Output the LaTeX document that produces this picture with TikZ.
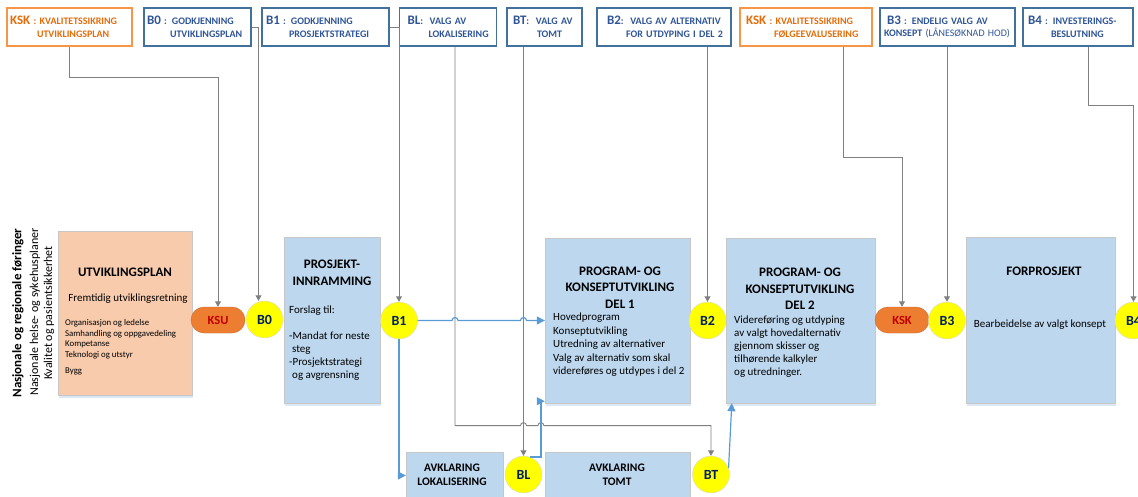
\documentclass[tikz,border=0pt]{standalone}
\usepackage{fontspec}
\setmainfont{Carlito}
\usetikzlibrary{arrows.meta,calc,shadows}

\definecolor{phaseblue}{RGB}{189,215,238}
\definecolor{planpeach}{RGB}{248,203,173}
\definecolor{gateyellow}{RGB}{255,255,0}
\definecolor{kskorange}{RGB}{237,125,49}
\definecolor{textorange}{RGB}{228,108,10}
\definecolor{frameorange}{RGB}{247,150,70}
\definecolor{frameblue}{RGB}{65,113,156}
\definecolor{textblue}{RGB}{47,85,151}
\definecolor{gatenavy}{RGB}{0,32,96}
\definecolor{kskred}{RGB}{192,0,0}
\definecolor{linkgray}{RGB}{128,128,128}
\definecolor{flowblue}{RGB}{91,155,213}

% bigger code letters in the decision boxes
\newcommand{\gatekey}[1]{{\fontsize{13}{13}\selectfont #1}}

\begin{document}
\begin{tikzpicture}
[
x=1pt, y=-1pt,
TopBlue/.style={rectangle, draw=frameblue, line width=1.2pt, fill=white, text=textblue, font=\bfseries\fontsize{10}{12.5}\selectfont, align=left, inner xsep=3pt, inner ysep=0pt, minimum height=38pt},
TopOrange/.style={TopBlue, draw=frameorange, text=textorange},
Phase/.style={rectangle, draw=black!22, fill=phaseblue, thin, drop shadow={shadow xshift=0.5pt, shadow yshift=-3pt, fill=phaseblue!55, opacity=1}},
Plan/.style={Phase, fill=planpeach},
Gate/.style={circle, draw=black!15, fill=gateyellow, minimum size=37pt, inner sep=0pt, text=gatenavy, font=\bfseries\fontsize{14}{14}\selectfont},
Check/.style={rectangle, rounded corners=13pt, draw=kskorange!85!black, fill=kskorange, minimum width=54pt, minimum height=26pt, inner sep=0pt, text=kskred, font=\bfseries\fontsize{12.5}{12.5}\selectfont},
Title/.style={font=\bfseries\fontsize{13}{16.5}\selectfont, align=center, inner sep=0pt},
Body/.style={font=\fontsize{11}{13.5}\selectfont, align=left, inner sep=0pt, anchor=north west},
Link/.style={draw=linkgray, line width=0.9pt, -{Triangle[width=6pt,length=5.5pt]}},
Flow/.style={draw=flowblue, line width=1.2pt, -{Triangle[width=8pt,length=8pt]}},
]

\useasboundingbox (0,0) rectangle (1138,497);

% decisions along the top
\node[TopOrange, text width=119pt] (kskA) at (69.5,27) {\gatekey{KSK} : KVALITETSSIKRING\\\hspace*{27pt}UTVIKLINGSPLAN};
\node[TopBlue, text width=101pt] (b0box) at (197.5,27) {\gatekey{B0} : GODKJENNING\\\hspace*{23pt}UTVIKLINGSPLAN};
\node[TopBlue, text width=121pt] (b1box) at (325.5,27) {\hspace*{1pt}\gatekey{B1} : GODKJENNING\\\hspace*{24pt}PROSJEKTSTRATEGI};
\node[TopBlue, text width=91pt] (blbox) at (448,27) {\hspace*{5pt}\gatekey{BL}:\ \ VALG AV\\\hspace*{26pt}LOKALISERING};
\node[TopBlue, text width=69pt] (btbox) at (544.5,27) {\hspace*{3pt}\gatekey{BT}:\ \ VALG AV\\\hspace*{27pt}TOMT};
\node[TopBlue, text width=128pt] (b2box) at (664,27) {\hspace*{7pt}\gatekey{B2}:\ \ VALG AV ALTERNATIV\\\hspace*{26pt}FOR UTDYPING I DEL 2};
\node[TopOrange, text width=126pt] (kskB) at (806,27) {\hspace*{3pt}\gatekey{KSK} : KVALITETSSIKRING\\\hspace*{31pt}FØLGEEVALUSERING};
\node[TopBlue, text width=129pt] (b3box) at (947.5,27) {\hspace*{4pt}\gatekey{B3} : ENDELIG VALG AV\\\hspace*{1pt}\mbox{KONSEPT {\mdseries (LÅNESØKNAD HOD)}}};
\node[TopBlue, text width=104pt] (b4box) at (1078,27) {\hspace*{2pt}\gatekey{B4} : INVESTERINGS-\\\hspace*{25pt}BESLUTNING};

% side text
\node[rotate=90, font=\bfseries\fontsize{13}{13}\selectfont] (foringer) at (18,313) {Nasjonale og regionale føringer};
\node[rotate=90, font=\fontsize{12}{12}\selectfont] (planer) at (35,312) {Nasjonale helse- og sykehusplaner};
\node[rotate=90, font=\fontsize{12}{12}\selectfont] (kvalitet) at (49,313) {Kvalitet og pasientsikkerhet};

% phases
\node[Plan, minimum width=134pt, minimum height=164pt] (plan) at (125,313) {};
\node[Phase, minimum width=96pt, minimum height=166pt] (innr) at (332,320) {};
\node[Phase, minimum width=145pt, minimum height=165pt] (del1) at (617.5,320.5) {};
\node[Phase, minimum width=149pt, minimum height=165pt] (del2) at (800.5,320.5) {};
\node[Phase, minimum width=149pt, minimum height=166pt] (forpro) at (1040.5,320) {};
\node[Phase, minimum width=97pt, minimum height=47pt] (lok) at (454.5,475.5) {};
\node[Phase, minimum width=145pt, minimum height=47pt] (tomt) at (617.5,475.5) {};

\node[Title] (plantitle) at (125,272) {UTVIKLINGSPLAN};
\node[font=\fontsize{11}{13}\selectfont, inner sep=0pt] (planaim) at (128,299) {Fremtidig utviklingsretning};
\node[Body, font=\fontsize{8.8}{10.7}\selectfont] (planlist) at (65,319) {Organisasjon og ledelse\\Samhandling og oppgavedeling\\Kompetanse\\Teknologi og utstyr\\[5pt]Bygg};

\node[Title] (innrtitle) at (332,273) {PROSJEKT-\\INNRAMMING};
\node[Body, font=\fontsize{11}{13}\selectfont] (innrtxt) at (289,305.5) {Forslag til:\\[13pt]-Mandat for neste\\\hspace*{3pt}steg\\-Prosjektstrategi\\\hspace*{3pt}og avgrensning};

\node[Title] (del1title) at (620,287.5) {PROGRAM- OG\\KONSEPTUTVIKLING\\DEL 1};
\node[Body] (del1txt) at (553,313) {Hovedprogram\\Konseptutvikling\\Utredning av alternativer\\Valg av alternativ som skal\\videreføres og utdypes i del 2};

\node[Title] (del2title) at (800,289) {PROGRAM- OG\\KONSEPTUTVIKLING\\DEL 2};
\node[Body, font=\fontsize{11}{13}\selectfont] (del2txt) at (734,315.5) {Videreføring og utdyping\\av valgt hovedalternativ\\gjennom skisser og\\tilhørende kalkyler\\og utredninger.};

\node[Title] (forprotitle) at (1044,271) {FORPROSJEKT};
\node[font=\fontsize{11}{13}\selectfont, inner sep=0pt] (forprotxt) at (1040,325) {Bearbeidelse av valgt konsept};

\node[Title, font=\bfseries\fontsize{11.5}{14}\selectfont] (loktitle) at (452,475) {AVKLARING\\LOKALISERING};
\node[Title, font=\bfseries\fontsize{11.5}{14}\selectfont] (tomttitle) at (617,475) {AVKLARING\\TOMT};

% gates and quality checks
\node[Check] (ksu) at (218,320) {KSU};
\node[Gate] (b0) at (264.5,319.5) {B0};
\node[Gate] (b1) at (399,320.5) {B1};
\node[Gate] (b2) at (707.5,320.5) {B2};
\node[Check] (ksk) at (902,320) {KSK};
\node[Gate] (b3) at (947,320.5) {B3};
\node[Gate] (b4) at (1133.5,320.5) {B4};
\node[Gate] (bl) at (523.5,474.5) {BL};
\node[Gate] (bt) at (711,474.5) {BT};

\coordinate (bldrop) at ([xshift=7pt]blbox.south);
\coordinate (bljog) at ($(bl.70)+(11,0)$);

% decision lines
\draw[Link] (kskA.south) -- ++(0,31) -| (ksu.north);
\draw[Link] (b0box.east) -| ([xshift=-6pt]b0.north);
\draw[Link] (b1box.east) -| (b1.north);
\draw[Link] (bldrop) -- ++(0,379) coordinate (lowrun) -- ($(lowrun -| bl)+(-3,0)$) arc[start angle=180, end angle=0, radius=3pt] -- ($(lowrun -| bljog)+(-3,0)$) arc[start angle=180, end angle=0, radius=3pt] -| (bt.north);
\draw[Link] (bl.north |- btbox.south) -- (bl.north);
\draw[Link] (b2.north |- b2box.south) -- (b2.north);
\draw[Link] ([xshift=37pt]kskB.south) -- ++(0,111) -| (ksk.north);
\draw[Link] (b3.north |- b3box.south) -- (b3.north);
\draw[Link] ([xshift=10pt]b4box.south) -- ++(0,59) -| (b4.north);

% process flow
\draw[Flow] (b1.east) -- ($(b1 -| bldrop)+(-3,0)$) arc[start angle=180, end angle=0, radius=3pt] -- ($(b1 -| bl)+(-3,0)$) arc[start angle=180, end angle=0, radius=3pt] -- (del1.west);
\draw[Flow] (b1.south) |- (lok.west);
\draw[Flow] (bl.70) -- (bljog) |- ([yshift=2pt]del1.south west);
\draw[Flow] (bt.20) -- ([xshift=6pt]del2.south west);

\end{tikzpicture}
\end{document}
